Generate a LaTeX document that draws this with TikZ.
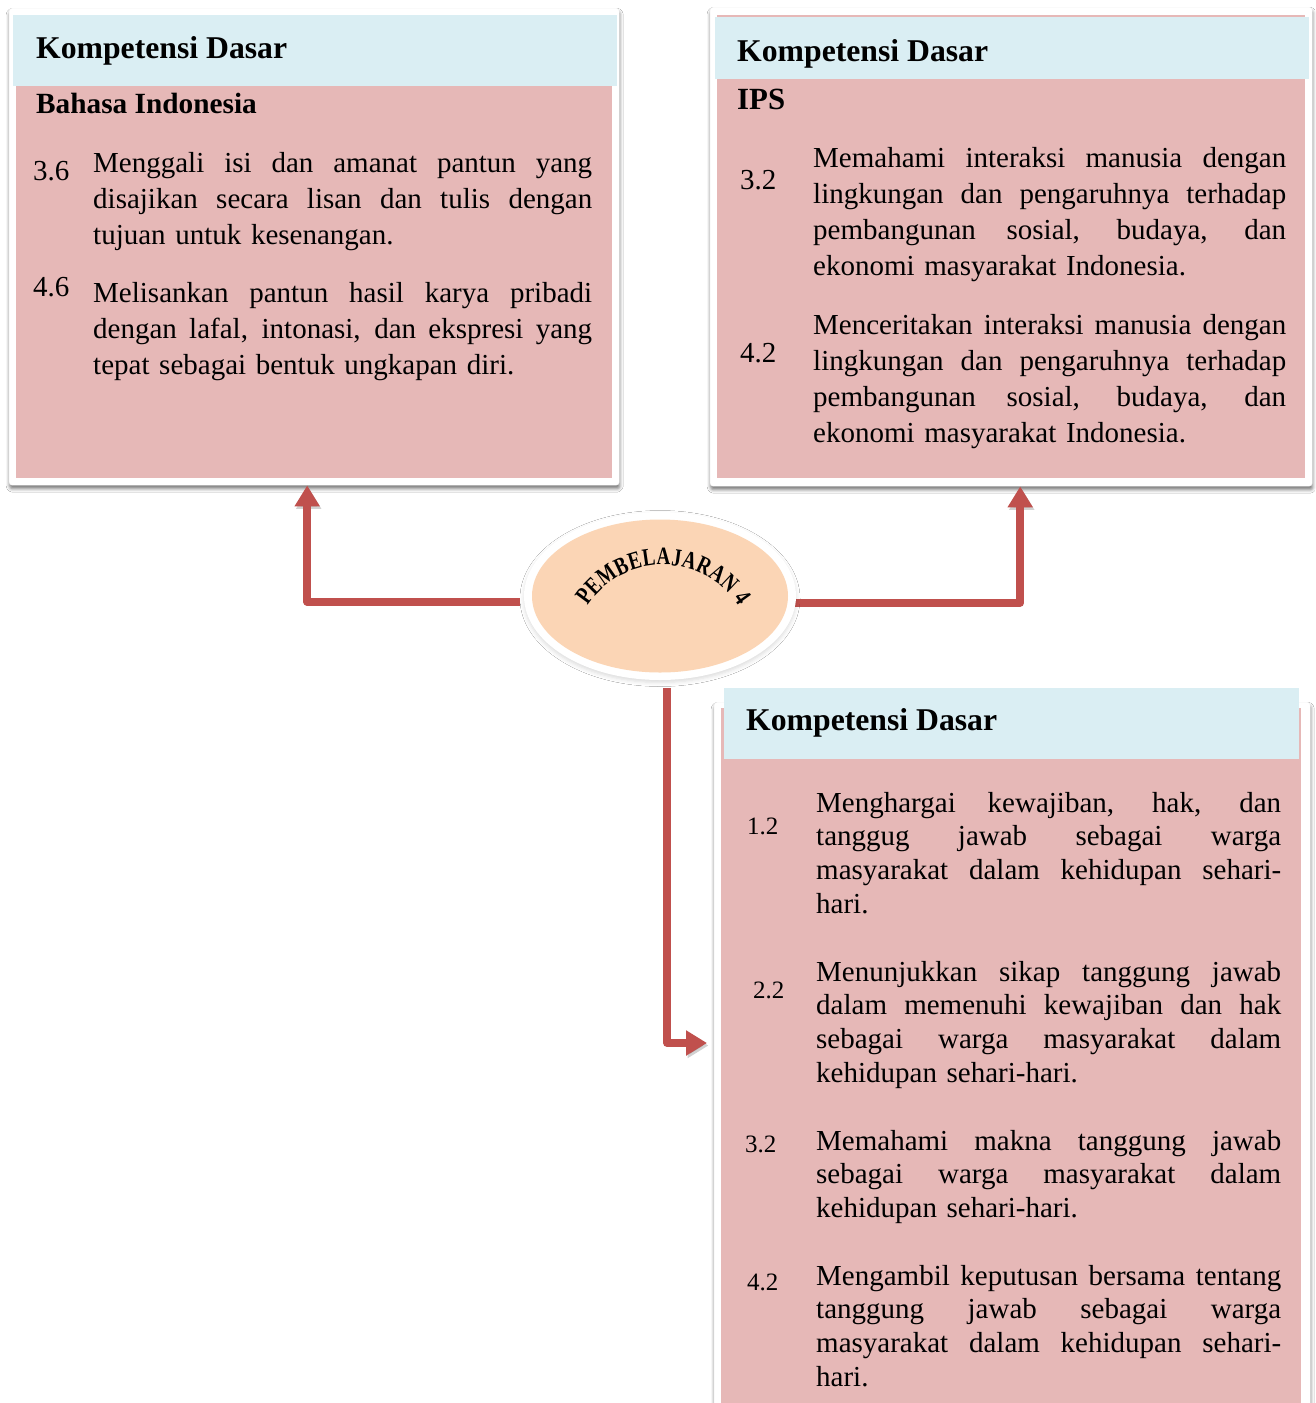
\documentclass[tikz,border=0pt]{standalone}
\usepackage{fontspec}
\setmainfont{Liberation Serif}
\newfontfamily\arcfam[FakeStretch=0.76]{Liberation Serif}
\usetikzlibrary{arrows.meta,shapes.geometric,shadows.blur,decorations.text}
\definecolor{hdrblue}{HTML}{DAEEF3}
\definecolor{bodypink}{HTML}{E6B8B7}
\definecolor{arrowred}{HTML}{C0504D}
\definecolor{peach}{HTML}{FBD5B5}
\newcommand\jl[2]{\leavevmode\hbox to #1{\spaceskip=0.25em plus 1fil\relax\xspaceskip=0.25em plus 1fil\relax #2}}
\newcommand\arcfont{\arcfam\fontsize{25}{29}\selectfont\bfseries}
\begin{document}
\begin{tikzpicture}[x=1pt,y=-1pt,
  card/.style={fill=white, draw=black!5, line width=0.4pt, rounded corners=3pt, inner sep=0pt, anchor=north west,
    blur shadow={shadow xshift=0.5pt, shadow yshift=-3.5pt, shadow blur radius=3.5pt, shadow opacity=55}},
  hdr/.style={fill=hdrblue, inner sep=0pt, anchor=north west},
  bod/.style={fill=bodypink, inner sep=0pt, anchor=north west},
  ttl/.style={anchor=base west, inner sep=0pt, font=\fontsize{31.7}{38}\selectfont\bfseries},
  sub/.style={anchor=base west, inner sep=0pt, font=\fontsize{29.3}{35}\selectfont\bfseries},
  num/.style={anchor=base west, inner sep=0pt, font=\fontsize{29}{35}\selectfont},
  snum/.style={anchor=base west, inner sep=0pt, font=\fontsize{25}{30}\selectfont},
  para/.style={anchor=base west, inner sep=0pt, align=left, font=\fontsize{29}{36.3}\selectfont},
  spara/.style={anchor=base west, inner sep=0pt, align=left, font=\fontsize{29}{33.7}\selectfont},
  conn/.style={draw=arrowred, line width=7.5pt, line join=round, -{Triangle[width=24pt,length=21pt]},
    preaction={draw=black, opacity=0.18, transform canvas={xshift=1.5pt,yshift=-2.5pt}}},
]
\useasboundingbox (0,0) rectangle (1315,1403);
\fill[white] (0,0) rectangle (1315,1403);

% cards
\node[card, minimum width=610pt, minimum height=477pt] (card1) at (9,8) {};
\node[bod, minimum width=596pt, minimum height=392pt] (body1) at (16,86) {};
\node[hdr, minimum width=604pt, minimum height=71pt] (head1) at (13,15) {};

\node[card, minimum width=602pt, minimum height=479pt] (card2) at (710,7) {};
\node[bod, minimum width=588pt, minimum height=463pt] (body2) at (717,15) {};
\node[hdr, minimum width=594pt, minimum height=62pt] (head2) at (715,17) {};

\node[card, minimum width=596pt, minimum height=720pt] (card3) at (714,702) {};
\node[bod, minimum width=580pt, minimum height=700pt] (body3) at (721,708) {};
\node[hdr, minimum width=575pt, minimum height=71pt] (head3) at (724,688) {};

% left box text
\node[ttl] (t1) at (36,58) {Kompetensi Dasar};
\node[sub] (s1) at (36,113) {Bahasa Indonesia};
\node[num] (n1a) at (33,180) {3.6};
\node[para, text width=499pt] (p1a) at (93,172) {\jl{499pt}{Menggali isi dan amanat pantun yang}\\\jl{499pt}{disajikan secara lisan dan tulis dengan}\\tujuan untuk kesenangan.};
\node[num] (n1b) at (33,296) {4.6};
\node[para, text width=499pt] (p1b) at (93,302) {\jl{499pt}{Melisankan pantun hasil karya pribadi}\\\jl{499pt}{dengan lafal, intonasi, dan ekspresi yang}\\tepat sebagai bentuk ungkapan diri.};

% right box text
\node[ttl] (t2) at (737,61) {Kompetensi Dasar};
\node[sub, font=\fontsize{30.8}{36}\selectfont\bfseries] (s2) at (737,109) {IPS};
\node[num] (n2a) at (740,189) {3.2};
\node[para, text width=473pt] (p2a) at (813,167) {\jl{473pt}{Memahami interaksi manusia dengan}\\\jl{473pt}{lingkungan dan pengaruhnya terhadap}\\\jl{473pt}{pembangunan sosial, budaya, dan}\\ekonomi masyarakat Indonesia.};
\node[num] (n2b) at (740,362) {4.2};
\node[para, text width=473pt] (p2b) at (813,334) {\jl{473pt}{Menceritakan interaksi manusia dengan}\\\jl{473pt}{lingkungan dan pengaruhnya terhadap}\\\jl{473pt}{pembangunan sosial, budaya, dan}\\ekonomi masyarakat Indonesia.};

% bottom box text
\node[ttl] (t3) at (746,730) {Kompetensi Dasar};
\node[snum] (n3a) at (747,834) {1.2};
\node[spara, text width=465pt] (p3a) at (816,812) {\jl{465pt}{Menghargai kewajiban, hak, dan}\\\jl{465pt}{tanggug jawab sebagai warga}\\\jl{465pt}{masyarakat dalam kehidupan sehari-}\\hari.};
\node[snum] (n3b) at (753,998) {2.2};
\node[spara, text width=465pt] (p3b) at (816,981) {\jl{465pt}{Menunjukkan sikap tanggung jawab}\\\jl{465pt}{dalam memenuhi kewajiban dan hak}\\\jl{465pt}{sebagai warga masyarakat dalam}\\kehidupan sehari-hari.};
\node[snum] (n3c) at (745,1152) {3.2};
\node[spara, text width=465pt] (p3c) at (816,1150) {\jl{465pt}{Memahami makna tanggung jawab}\\\jl{465pt}{sebagai warga masyarakat dalam}\\kehidupan sehari-hari.};
\node[snum] (n3d) at (747,1290) {4.2};
\node[spara, text width=465pt] (p3d) at (816,1285) {\jl{465pt}{Mengambil keputusan bersama tentang}\\\jl{465pt}{tanggung jawab sebagai warga}\\\jl{465pt}{masyarakat dalam kehidupan sehari-}\\hari.};

% central ellipse position
\path (660,596) coordinate (ellc);
\coordinate (a3e) at (707,1043);
\node[ellipse, minimum width=272pt, minimum height=168pt, inner sep=0pt] (ellpos) at (ellc) {};

% arrows
\draw[conn] ([shift={(-4pt,-6pt)}]ellpos.west) -| ([xshift=-7pt]card1.south);
\draw[conn] ([shift={(-4pt,-7pt)}]ellpos.east) -| ([xshift=9pt]card2.south);
\draw[conn] ([shift={(7pt,-8pt)}]ellpos.south) |- (a3e);

\node[ellipse, fill=white, minimum width=272pt, minimum height=168pt, inner sep=0pt,
  blur shadow={shadow xshift=0pt, shadow yshift=-2.5pt, shadow blur radius=4pt, shadow opacity=14}] (ell) at (ellc) {};
\node[ellipse, fill=peach, minimum width=256pt, minimum height=153pt, inner sep=0pt] (core) at (ellc) {};
\path[decorate, decoration={text along path, text={|\arcfont|PEMBELAJARAN 4}, text align={fit to path}}]
  (587.5,606) .. controls (623,551.3) and (703,551.3) .. (738.5,606);
\end{tikzpicture}
\end{document}
